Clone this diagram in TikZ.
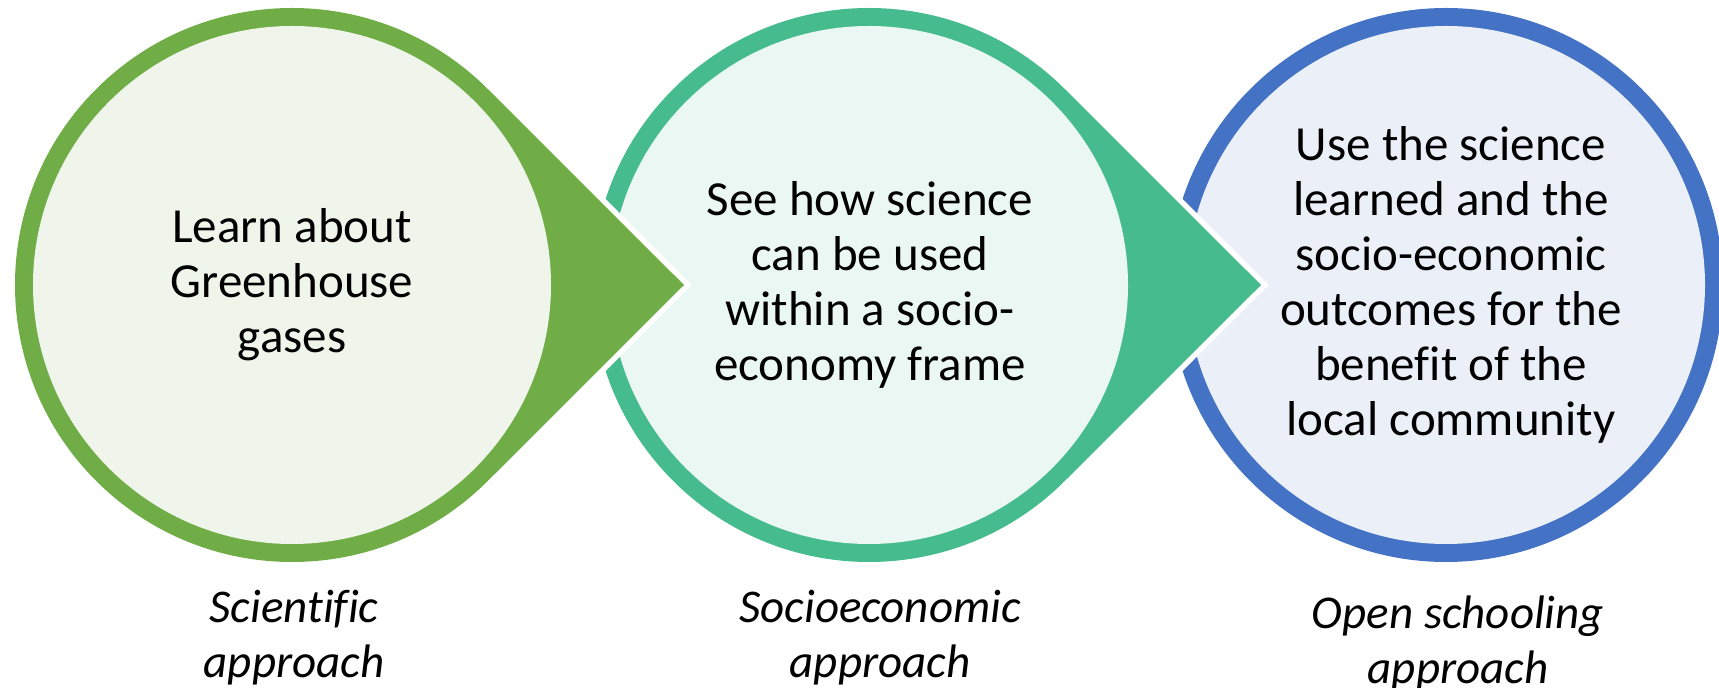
\documentclass[tikz,border=0pt]{standalone}
\usepackage{fontspec}
\setmainfont[Ligatures=NoCommon]{Carlito}
\usetikzlibrary{calc}

\definecolor{grnD}{HTML}{70AD47}
\definecolor{grnL}{HTML}{EFF5EA}
\definecolor{tealD}{HTML}{46BC8E}
\definecolor{tealL}{HTML}{EBF7F2}
\definecolor{bluD}{HTML}{4472C4}
\definecolor{bluL}{HTML}{EAEFF8}

\tikzset{
  steptext/.style={align=center, font=\fontsize{49}{55}\selectfont, text=black, inner sep=0pt},
  caption/.style={align=center, font=\fontsize{47}{55}\selectfont\itshape, text=black, inner sep=0pt},
  gap/.style={draw=white, line width=11pt, line join=miter},
}

% one process stage: circle with a pointed tip to the right
% #1 centre name, #2 dark colour, #3 light colour
\newcommand\stageshape[3]{%
  \path[gap] ($(#1)+(45:277)$) -- ($(#1)+(392,0)$) -- ($(#1)+(-45:277)$)
      arc[start angle=-45, end angle=-315, radius=277] -- cycle;
  \fill[#2] ($(#1)+(45:277)$) -- ($(#1)+(392,0)$) -- ($(#1)+(-45:277)$)
      arc[start angle=-45, end angle=-315, radius=277] -- cycle;
  \fill[#3] (#1) circle[radius=259];
}

\begin{document}
\begin{tikzpicture}[x=1pt, y=1pt]
  \useasboundingbox (0,0) rectangle (1719,688);
  \clip (0,0) rectangle (1719,688);

  \coordinate (c1) at (292,403);
  \coordinate (c2) at (869,403);
  \coordinate (c3) at (1446,403);

  % last stage: a plain ring, no tip
  \fill[bluD] (c3) circle[radius=277];
  \fill[bluL] (c3) circle[radius=259];

  % stages drawn right to left so each tip lies over the next circle
  \stageshape{c2}{tealD}{tealL}
  \stageshape{c1}{grnD}{grnL}

  \node[steptext] (t1) at (292,403) {Learn about\\Greenhouse\\gases};
  \node[steptext] (t2) at (870,403) {See how science\\can be used\\within a socio-\\economy frame};
  \node[steptext] (t3) at (1451,403) {Use the science\\learned and the\\socio-economic\\outcomes for the\\benefit of the\\local community};

  \node[caption] (l1) at (294,50) {Scientific\\approach};
  \node[caption] (l2) at (880,50) {Socioeconomic\\approach};
  \node[caption] (l3) at (1458,45) {Open schooling\\approach};
\end{tikzpicture}
\end{document}
